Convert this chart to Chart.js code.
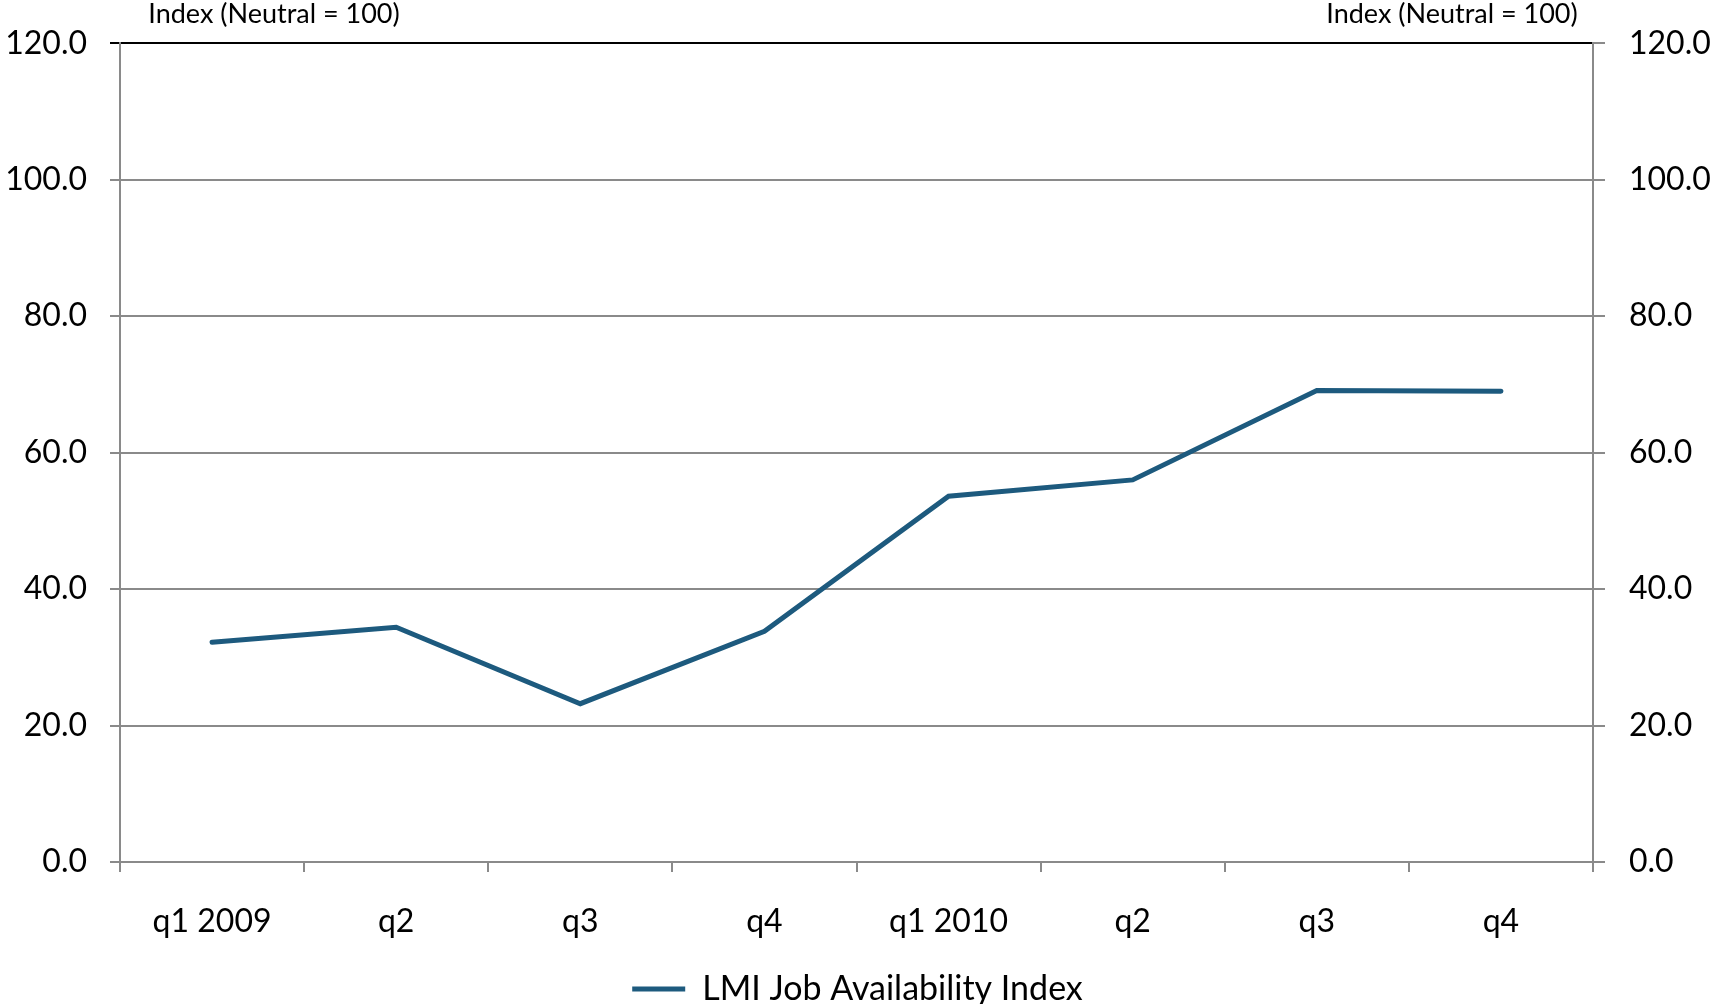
<!DOCTYPE html>
<html>
<head>
<meta charset="utf-8">
<script src="https://cdn.jsdelivr.net/npm/chart.js@4.4.1/dist/chart.umd.min.js"></script>
<style>
  html, body { margin: 0; padding: 0; background: #fff; }
  #wrap { width: 1715px; height: 1004px; }
</style>
</head>
<body>
<div id="wrap"><canvas id="lmiChart"></canvas></div>
<script>
const quarters = ["q1 2009", "q2", "q3", "q4", "q1 2010", "q2", "q3", "q4"];
const jobIndex = [32.2, 34.4, 23.2, 33.8, 53.6, 56.0, 69.1, 69.0];
const yTicks = [0, 20, 40, 60, 80, 100, 120];
const seriesName = "LMI Job Availability Index";
const axisTitle = "Index (Neutral = 100)";

const lineColor = '#1D5A7E';
const gridColor = '#8a8a8a';
const fontName = 'Lato, "Open Sans", sans-serif';

// axis titles sit above the plot, one per side
const topTitles = {
  id: 'topTitles',
  afterDraw(chart) {
    const ctx = chart.ctx;
    const area = chart.chartArea;
    ctx.save();
    ctx.font = '27px ' + fontName;
    ctx.fillStyle = '#000';
    ctx.textAlign = 'center';
    ctx.textBaseline = 'middle';
    ctx.fillText(axisTitle, area.left + 154, 14);
    ctx.fillText(axisTitle, area.right - 141, 14);
    ctx.restore();
  }
};

const ctx = document.getElementById("lmiChart");
let lmiChart = new Chart(ctx, {
  type: 'line',
  data: {
    labels: quarters,
    datasets: [
      {
        label: seriesName,
        data: jobIndex,
        borderColor: lineColor,
        backgroundColor: lineColor,
        borderWidth: 5,
        pointRadius: 0,
        tension: 0,
        borderCapStyle: 'round',
        borderJoinStyle: 'miter',
        yAxisID: 'y'
      }
    ]
  },
  options: {
    responsive: true,
    maintainAspectRatio: false,
    animation: false,
    layout: { padding: { top: 41, bottom: -12, left: 0, right: 0 } },
    plugins: {
      tooltip: { enabled: false },
      legend: {
        position: 'bottom',
        labels: {
          usePointStyle: true,
          pointStyle: 'line',
          pointStyleWidth: 53,
          padding: 0,
          color: '#000',
          font: { family: fontName, size: 34, lineHeight: 1.0 }
        }
      }
    },
    scales: {
      x: {
        offset: true,
        grid: {
          offset: true,
          drawOnChartArea: false,
          drawTicks: true,
          tickLength: 10,
          color: gridColor,
          lineWidth: 2
        },
        border: { display: true, color: gridColor, width: 2 },
        ticks: {
          color: '#000',
          padding: 30,
          maxRotation: 0,
          autoSkip: false,
          font: { family: fontName, size: 32 }
        },
        afterFit(scale) { scale.height = 110; }
      },
      y: {
        position: 'left',
        min: 0,
        max: 120,
        afterBuildTicks(scale) { scale.ticks = yTicks.map(v => ({ value: v })); },
        grid: {
          color: c => c.tick && c.tick.value === 120 ? '#000' : gridColor,
          lineWidth: 2,
          tickLength: 10
        },
        border: { display: true, color: gridColor, width: 2 },
        ticks: {
          color: '#000',
          padding: 23,
          font: { family: fontName, size: 32 },
          callback: v => Number(v).toFixed(1)
        },
        afterFit(scale) { scale.width = 120; }
      },
      y2: {
        position: 'right',
        min: 0,
        max: 120,
        afterBuildTicks(scale) { scale.ticks = yTicks.map(v => ({ value: v })); },
        grid: {
          drawOnChartArea: false,
          color: gridColor,
          lineWidth: 2,
          tickLength: 12
        },
        border: { display: true, color: gridColor, width: 2 },
        ticks: {
          color: '#000',
          padding: 24,
          font: { family: fontName, size: 32 },
          callback: v => Number(v).toFixed(1)
        },
        afterFit(scale) { scale.width = 122; }
      }
    }
  },
  plugins: [topTitles]
});
</script>
</body>
</html>
